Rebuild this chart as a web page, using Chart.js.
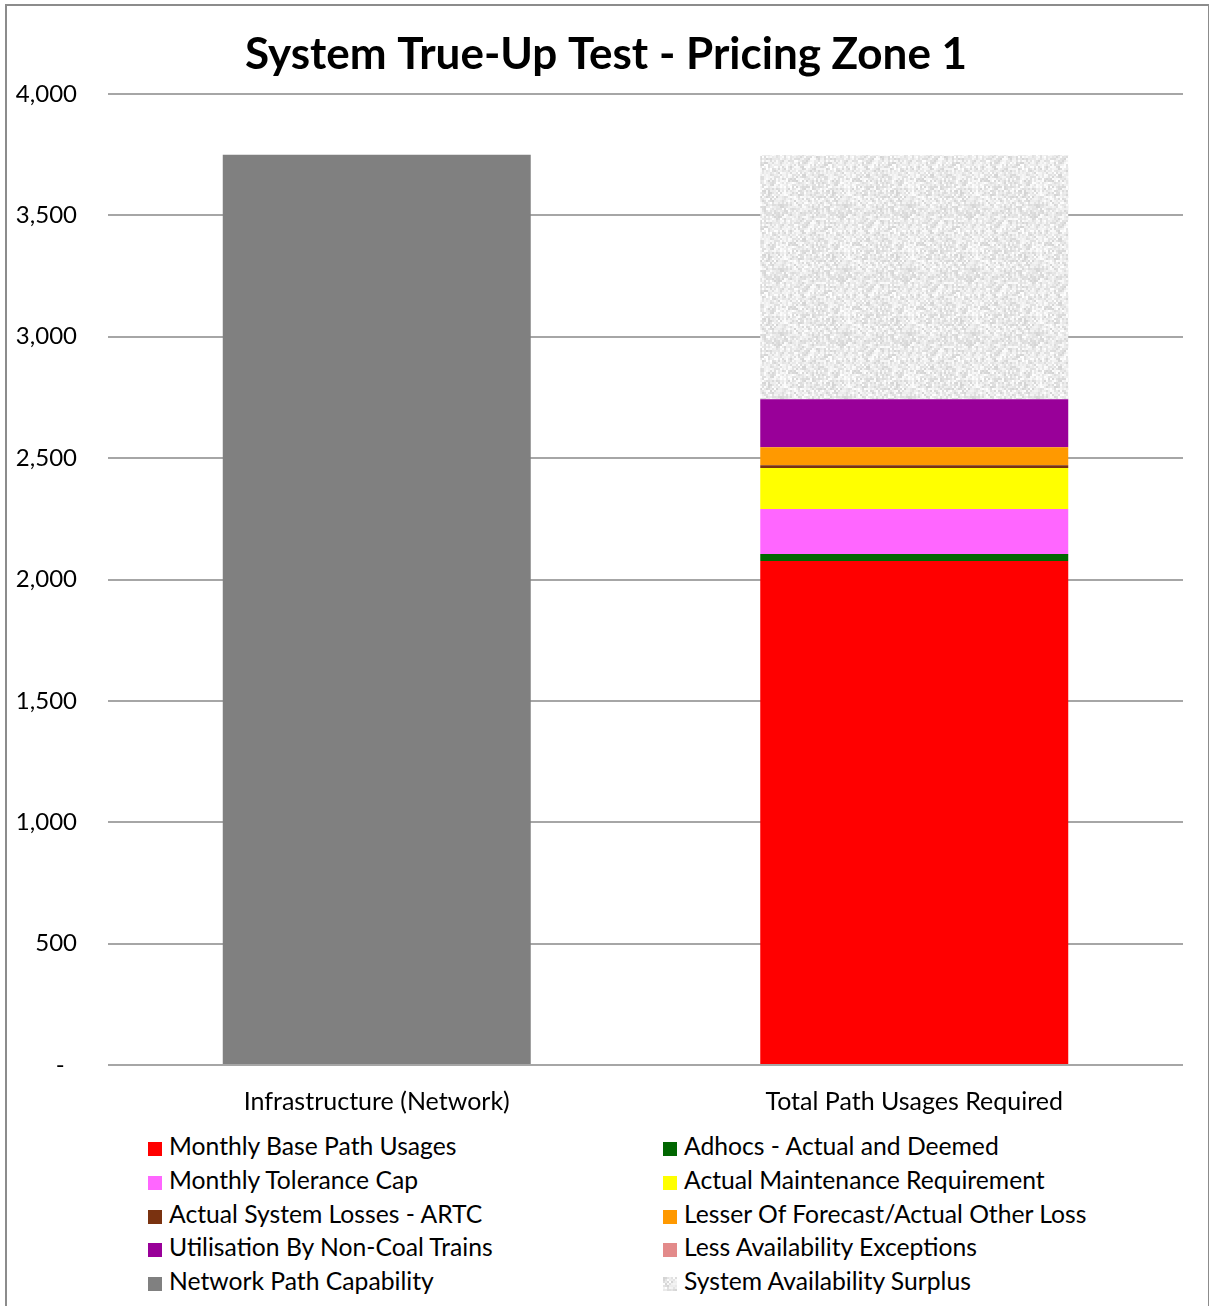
<!DOCTYPE html>
<html>
<head>
<meta charset="utf-8">
<script src="https://cdn.jsdelivr.net/npm/chart.js@4.4.1/dist/chart.umd.min.js"></script>
<style>
  body { margin: 0; background: #fff; font-family: Lato, "Open Sans", sans-serif; }
  #frame { position: absolute; left: 5px; top: 4px; width: 1201px; height: 1320px; border: 2px solid #8c8c8c; }
  #chart { position: absolute; left: 0; top: 0; }
  #legend { position: absolute; left: 0; top: 0; }
  .item { position: absolute; font-size: 24.7px; color: #000; white-space: nowrap; line-height: 34px; height: 34px; }
  .box { display: inline-block; width: 14px; height: 14px; margin-right: 7px; vertical-align: -1px; }
</style>
</head>
<body>
<div id="frame"></div>
<canvas id="chart" width="1209" height="1125"></canvas>
<div id="legend"></div>
<script>
const chartTitle = 'System True-Up Test - Pricing Zone 1';
const categories = ['Infrastructure (Network)', 'Total Path Usages Required'];
const yTicks = [0, 500, 1000, 1500, 2000, 2500, 3000, 3500, 4000];

// values
const baseUsages = [null, 2076];
const adhocs = [null, 29];
const toleranceCap = [null, 185];
const maintenance = [null, 169];
const lossesARTC = [null, 12];
const otherLoss = [null, 74];
const nonCoal = [null, 198];
const availExceptions = [null, 0];
const networkCapability = [3750, null];
const surplus = [null, 1005];

// light speckled texture for the surplus block
function makeTexture() {
    let c = document.createElement('canvas');
    c.width = 64; c.height = 64;
    let ctx = c.getContext('2d');
    ctx.fillStyle = '#ececec';
    ctx.fillRect(0, 0, 64, 64);
    for (let y = 0; y < 64; y += 2) {
        for (let x = 0; x < 64; x += 2) {
            let n = Math.sin(x * 12.9898 + y * 78.233) * 43758.5453;
            n = n - Math.floor(n);
            let g = Math.round(212 + n * 43);
            ctx.fillStyle = 'rgb(' + g + ',' + g + ',' + g + ')';
            ctx.fillRect(x, y, 2, 2);
        }
    }
    return c;
}
const tex = makeTexture();
const texPattern = document.getElementById('chart').getContext('2d').createPattern(tex, 'repeat');

const datasets = [
    { label: 'Monthly Base Path Usages', data: baseUsages, backgroundColor: '#ff0000' },
    { label: 'Adhocs - Actual and Deemed', data: adhocs, backgroundColor: '#006600' },
    { label: 'Monthly Tolerance Cap', data: toleranceCap, backgroundColor: '#ff66ff' },
    { label: 'Actual Maintenance Requirement', data: maintenance, backgroundColor: '#ffff00' },
    { label: 'Actual System Losses - ARTC', data: lossesARTC, backgroundColor: '#7a3210' },
    { label: 'Lesser Of Forecast/Actual Other Loss', data: otherLoss, backgroundColor: '#ff9900' },
    { label: 'Utilisation By Non-Coal Trains', data: nonCoal, backgroundColor: '#990099' },
    { label: 'Less Availability Exceptions', data: availExceptions, backgroundColor: '#e38a8a' },
    { label: 'Network Path Capability', data: networkCapability, backgroundColor: '#808080' },
    { label: 'System Availability Surplus', data: surplus, backgroundColor: texPattern }
];

// title drawn by hand, it sits a bit right of the plot centre in the original
const titlePlugin = {
    id: 'titleText',
    afterDraw(chart) {
        const ctx = chart.ctx;
        ctx.save();
        ctx.font = 'bold 44px Lato';
        ctx.fillStyle = '#000';
        ctx.textAlign = 'center';
        ctx.textBaseline = 'middle';
        ctx.fillText(chartTitle, 606, 55);
        ctx.restore();
    }
};

const chart = new Chart(document.getElementById('chart'), {
    type: 'bar',
    data: { labels: categories, datasets: datasets },
    plugins: [titlePlugin],
    options: {
        responsive: false,
        animation: false,
        layout: { padding: { top: 94, right: 26, left: 0, bottom: 0 } },
        datasets: { bar: { categoryPercentage: 1, barPercentage: 0.573, borderWidth: 0 } },
        plugins: {
            legend: { display: false },
            tooltip: { enabled: false },
            title: { display: false }
        },
        scales: {
            x: {
                stacked: true,
                grid: { display: false },
                border: { display: false },
                ticks: { color: '#000', font: { family: 'Lato', size: 25 }, padding: 14 },
                afterFit: function(s) { s.height = 60; }
            },
            y: {
                stacked: true,
                min: 0,
                max: 4000,
                afterBuildTicks: function(s) { s.ticks = yTicks.map(v => ({ value: v })); },
                grid: { color: '#a6a6a6', lineWidth: 2, drawTicks: false },
                border: { display: false },
                ticks: {
                    color: '#000',
                    font: { family: 'Lato', size: 24 },
                    padding: 31,
                    callback: function(v) { return v === 0 ? '-  ' : v.toLocaleString('en-US'); }
                },
                afterFit: function(s) { s.width = 108; }
            }
        }
    }
});

// two-column legend below the chart
const legend = document.getElementById('legend');
const colX = [148, 663];
const rowY = [1129, 1163, 1197, 1230, 1264];
chart.data.datasets.forEach(function(ds, i) {
    let div = document.createElement('div');
    div.className = 'item';
    div.style.left = colX[i % 2] + 'px';
    div.style.top = rowY[Math.floor(i / 2)] + 'px';
    let box = document.createElement('span');
    box.className = 'box';
    if (ds.backgroundColor === texPattern) {
        box.style.backgroundImage = 'url(' + tex.toDataURL() + ')';
    } else {
        box.style.background = ds.backgroundColor;
    }
    div.appendChild(box);
    div.appendChild(document.createTextNode(ds.label));
    legend.appendChild(div);
});
</script>
</body>
</html>
